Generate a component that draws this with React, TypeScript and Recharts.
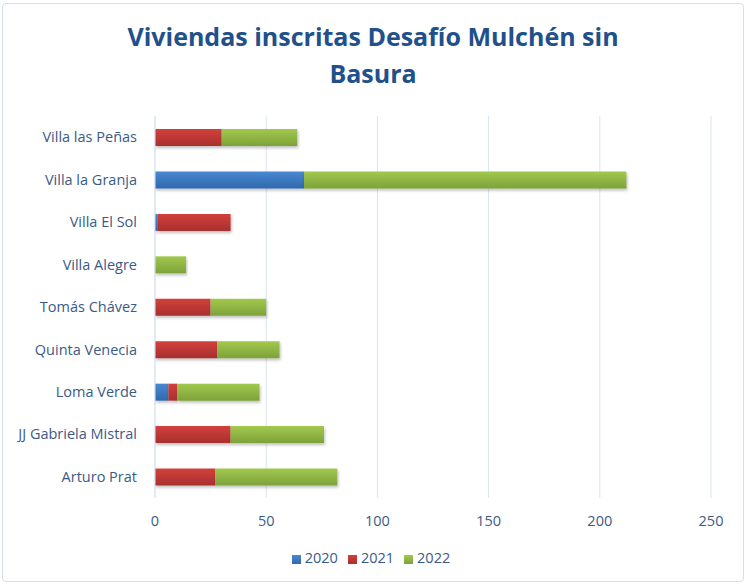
import React from 'react';
import { BarChart, Bar, XAxis, YAxis, CartesianGrid, Legend } from 'recharts';

const categories = [
  'Villa las Peñas',
  'Villa la Granja',
  'Villa El Sol',
  'Villa Alegre',
  'Tomás Chávez',
  'Quinta Venecia',
  'Loma Verde',
  'JJ Gabriela Mistral',
  'Arturo Prat',
];
const values2020 = [0, 67, 1, 0, 0, 0, 6, 0, 0];
const values2021 = [30, 0, 33, 0, 25, 28, 4, 34, 27];
const values2022 = [34, 145, 0, 14, 25, 28, 37, 42, 55];
const xTicks = [0, 50, 100, 150, 200, 250];

const data = categories.map((name, i) => ({
  name,
  '2020': values2020[i],
  '2021': values2021[i],
  '2022': values2022[i],
}));

const FONT = "'Open Sans', 'Noto Sans', sans-serif";
const TEXT = '#3B5A86';

const App: React.FC = () => {
  return (
    <div style={{ position: 'absolute', left: 0, top: 0, width: 746, height: 584, background: '#fff', fontFamily: FONT }}>
      <div
        style={{
          position: 'absolute',
          left: 2,
          top: 3,
          width: 740,
          height: 577,
          border: '1px solid #d5dfec',
          borderRadius: 4,
        }}
      />
      <div
        style={{
          position: 'absolute',
          left: 0,
          top: 18,
          width: 746,
          textAlign: 'center',
          color: '#21508A',
          fontWeight: 700,
          fontSize: 25,
          lineHeight: '37px',
        }}
      >
        Viviendas inscritas Desafío Mulchén sin
        <br />
        Basura
      </div>
      <BarChart
        width={746}
        height={584}
        data={data}
        layout="vertical"
        margin={{ top: 116, right: 35, left: 0, bottom: 37 }}
        style={{ position: 'absolute', left: 0, top: 0 }}
      >
        <defs>
          <linearGradient id="g2020" x1="0" y1="0" x2="0" y2="1">
            <stop offset="0%" stopColor="#4a88d2" />
            <stop offset="100%" stopColor="#2f69ae" />
          </linearGradient>
          <linearGradient id="g2021" x1="0" y1="0" x2="0" y2="1">
            <stop offset="0%" stopColor="#d2403d" />
            <stop offset="100%" stopColor="#a8302e" />
          </linearGradient>
          <linearGradient id="g2022" x1="0" y1="0" x2="0" y2="1">
            <stop offset="0%" stopColor="#a2c84e" />
            <stop offset="100%" stopColor="#7da23a" />
          </linearGradient>
          <filter id="shadow" x="-5%" y="-20%" width="110%" height="160%">
            <feDropShadow dx="1" dy="2" stdDeviation="1.5" floodColor="#000" floodOpacity="0.25" />
          </filter>
        </defs>
        <CartesianGrid horizontal={false} stroke="#d9e4f1" />
        <XAxis
          type="number"
          domain={[0, 250]}
          ticks={xTicks}
          axisLine={false}
          tickLine={false}
          tick={{ fill: TEXT, fontSize: 14.5, fontFamily: FONT }}
          tickMargin={12}
          height={30}
        />
        <YAxis
          type="category"
          dataKey="name"
          width={155}
          axisLine={{ stroke: '#d9e4f1' }}
          tickLine={false}
          tick={{ fill: TEXT, fontSize: 14.5, fontFamily: FONT }}
          tickMargin={12}
        />
        <Legend
          verticalAlign="bottom"
          iconType="square"
          iconSize={9}
          wrapperStyle={{ position: 'absolute', top: 548, left: 3, width: 746, fontSize: 14.5, fontFamily: FONT, color: TEXT }}
          formatter={(v: string) => <span style={{ color: TEXT }}>{v}</span>}
        />
        <Bar dataKey="2020" stackId="a" fill="url(#g2020)" barSize={17} isAnimationActive={false} filter="url(#shadow)" legendType="square" />
        <Bar dataKey="2021" stackId="a" fill="url(#g2021)" barSize={17} isAnimationActive={false} filter="url(#shadow)" legendType="square" />
        <Bar dataKey="2022" stackId="a" fill="url(#g2022)" barSize={17} isAnimationActive={false} filter="url(#shadow)" legendType="square" />
      </BarChart>
    </div>
  );
};

export default App;
